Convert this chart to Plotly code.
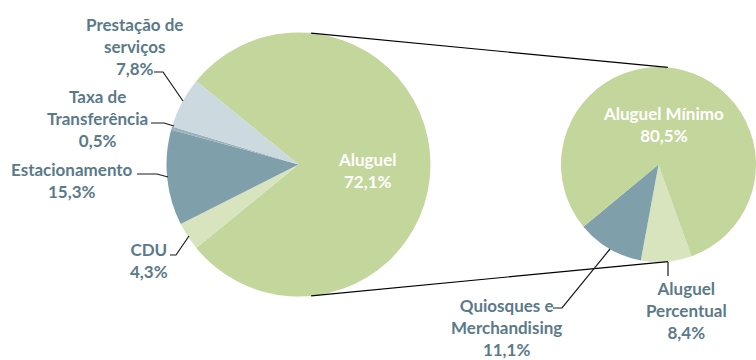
import math
import plotly.graph_objects as go

W, H = 756, 360

# ---- data ----
main_labels = ["Aluguel", "CDU", "Estacionamento", "Taxa de Transferência", "Prestação de serviços"]
main_values = [78.2, 3.45, 11.7, 0.4, 6.25]          # slice sizes as drawn in the picture
main_pct_text = ["72,1%", "4,3%", "15,3%", "0,5%", "7,8%"]  # printed labels
main_colors = ["#c3d69b", "#d7e4bd", "#7f9fab", "#9cb3be", "#ccd9df"]

sub_labels = ["Aluguel Percentual", "Quiosques e Merchandising", "Aluguel Mínimo"]
sub_values = [8.4, 11.1, 80.5]
sub_pct_text = ["8,4%", "11,1%", "80,5%"]
sub_colors = ["#d7e4bd", "#7f9fab", "#c3d69b"]

# ---- geometry (pixels) ----
c1x, cy, r1 = 298.5, 164.5, 132.0
c2x, r2 = 658.5, 97.5


def px(x):
    return x / W


def py(y):
    return 1 - y / H


fig = go.Figure()
tot = sum(main_values)
fig.add_trace(go.Pie(
    labels=main_labels, values=main_values, sort=False, direction="clockwise",
    rotation=90 - 180 * main_values[0] / tot,
    marker=dict(colors=main_colors, line=dict(width=0)),
    textinfo="none", hoverinfo="label+percent",
    domain=dict(x=[px(c1x - r1), px(c1x + r1)], y=[py(cy + r1), py(cy - r1)]),
    showlegend=False,
))
fig.add_trace(go.Pie(
    labels=sub_labels, values=sub_values, sort=False, direction="clockwise",
    rotation=160.2,
    marker=dict(colors=sub_colors, line=dict(width=0)),
    textinfo="none", hoverinfo="label+percent",
    domain=dict(x=[px(c2x - r2), min(1, px(c2x + r2))], y=[py(cy + r2), py(cy - r2)]),
    showlegend=False,
))

shapes = []
# connector lines: external common tangents of the two circles
a = math.asin((r1 - r2) / (c2x - c1x))
for s in (1, -1):
    x0, y0 = c1x + r1 * math.sin(a), cy - s * r1 * math.cos(a)
    x1, y1 = c2x + r2 * math.sin(a), cy - s * r2 * math.cos(a)
    shapes.append(dict(type="line", xref="paper", yref="paper",
                       x0=px(x0), y0=py(y0), x1=px(x1), y1=py(y1),
                       line=dict(color="#000000", width=1.2)))

# leader lines
leaders = [
    [(154, 72), (163, 72), (183, 101)],
    [(151, 123), (164, 123), (174, 126)],
    [(137, 174), (157, 174), (168, 177)],
    [(170, 255), (176, 255), (189, 236)],
    [(553, 308), (562, 308), (610, 249)],
    [(668, 262), (668, 276)],
]
for pts in leaders:
    d = "M " + " L ".join(f"{px(x):.5f},{py(y):.5f}" for x, y in pts)
    shapes.append(dict(type="path", xref="paper", yref="paper", path=d,
                       line=dict(color="#1a1a1a", width=1.2)))

label_color = "#5b7a89"
FONT = "Lato"
ann = []


def add_label(text, x, y, color=label_color, size=17):
    ann.append(dict(text=text, x=px(x), y=py(y), xref="paper", yref="paper",
                    showarrow=False, xanchor="center", yanchor="middle", align="center",
                    font=dict(family=FONT, size=size, color=color, weight="bold")))


add_label(f"Prestação de<br>serviços<br>{main_pct_text[4]}", 134, 46)
add_label(f"Taxa de<br>Transferência<br>{main_pct_text[3]}", 97, 119)
add_label(f"Estacionamento<br>{main_pct_text[2]}", 72, 180)
add_label(f"CDU<br>{main_pct_text[1]}", 149, 260)
add_label(f"{main_labels[0]}<br>{main_pct_text[0]}", 367, 170, color="#ffffff")
add_label(f"{sub_labels[2]}<br>{sub_pct_text[2]}", 663, 124, color="#ffffff")
add_label(f"Quiosques e<br>Merchandising<br>{sub_pct_text[1]}", 506, 327)
add_label(f"Aluguel<br>Percentual<br>{sub_pct_text[0]}", 686, 310)

fig.update_layout(
    width=W, height=H, margin=dict(l=0, r=0, t=0, b=0),
    paper_bgcolor="#ffffff", plot_bgcolor="#ffffff",
    shapes=shapes, annotations=ann,
)
fig.write_html("out.html")
